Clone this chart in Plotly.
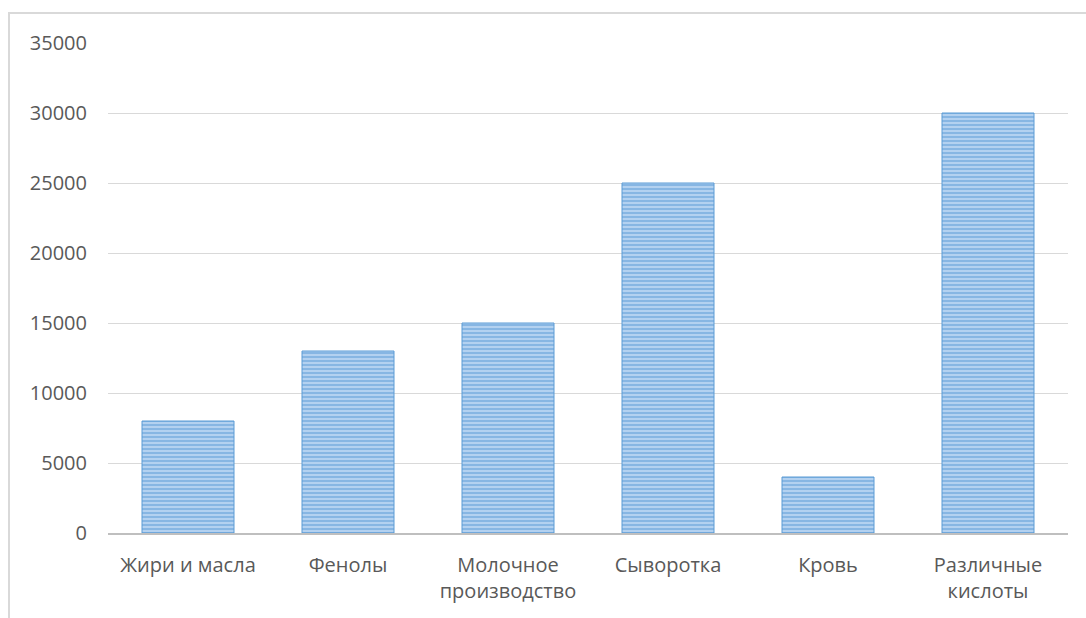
import plotly.graph_objects as go

categories = ["Жири и масла", "Фенолы", "Молочное<br>производство", "Сыворотка", "Кровь", "Различные<br>кислоты"]
values = [8000, 13000, 15000, 25000, 4000, 30000]
tick_vals = [0, 5000, 10000, 15000, 20000, 25000, 30000, 35000]
tick_text = ["0", "5000", "10000", "15000", "20000", "25000", "30000", "35000"]

fig = go.Figure()
fig.add_trace(go.Bar(
    x=categories, y=values,
    marker=dict(
        color="#a9c9ec",
        line=dict(color="#5b9bd5", width=1),
        pattern=dict(shape="-", fgcolor="#5b9bd5", bgcolor="#b3d1f0", size=4, solidity=0.5),
    ),
    width=0.575,
))

fig.update_layout(
    width=1086, height=618,
    margin=dict(l=108, r=18, t=43, b=85),
    paper_bgcolor="white", plot_bgcolor="white",
    font=dict(family="Open Sans", size=20, color="#595959"),
    showlegend=False,
    xaxis=dict(showline=True, linecolor="#bfbfbf", linewidth=2, showgrid=False,
               ticks="", ticklabelstandoff=13, tickfont=dict(size=20, color="#595959")),
    yaxis=dict(range=[0, 35000], tickvals=tick_vals, ticktext=tick_text,
               showgrid=True, gridcolor="#d9d9d9", gridwidth=1, zeroline=False,
               ticks="", ticklabelstandoff=20, tickfont=dict(size=20, color="#595959")),
    shapes=[dict(type="rect", xref="paper", yref="paper",
                 x0=(9 - 108) / 960, x1=1.2, y0=-0.3, y1=1 + (43 - 13) / 490,
                 line=dict(color="#d9d9d9", width=2), layer="below")],
)

fig.write_html("out.html")
